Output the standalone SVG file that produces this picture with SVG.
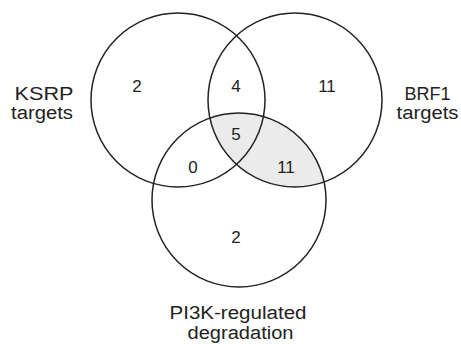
<svg xmlns="http://www.w3.org/2000/svg" width="461" height="344" viewBox="0 0 461 344">
<style>
.c{fill:none;stroke:#222;stroke-width:1.5}
.n{font-family:"Liberation Sans",Arial,sans-serif;font-size:17px;fill:#222;text-anchor:middle}
.l{font-family:"Liberation Sans",Arial,sans-serif;font-size:18px;fill:#222;text-anchor:middle}
</style>
<rect width="461" height="344" fill="#fff"/>
<g id="shade"><path d="M209.8 118 A87 87 0 0 1 324.2 182 A87 87 0 0 1 209.8 118 Z" fill="#ebebeb"/></g>
<g id="ksrp"><circle class="c" cx="178" cy="100" r="87"/><text class="l" x="44" y="100" textLength="59" lengthAdjust="spacingAndGlyphs">KSRP</text><text class="l" x="42" y="119" textLength="62" lengthAdjust="spacingAndGlyphs">targets</text></g>
<g id="brf1"><circle class="c" cx="295" cy="100" r="87"/><text class="l" x="427.5" y="100" textLength="46" lengthAdjust="spacingAndGlyphs">BRF1</text><text class="l" x="427.5" y="119" textLength="62" lengthAdjust="spacingAndGlyphs">targets</text></g>
<g id="pi3k"><circle class="c" cx="239" cy="200" r="87"/><text class="l" x="238" y="319" textLength="137" lengthAdjust="spacingAndGlyphs">PI3K-regulated</text><text class="l" x="240.5" y="339" textLength="106" lengthAdjust="spacingAndGlyphs">degradation</text></g>
<g id="counts">
<text class="n" x="137" y="92">2</text>
<text class="n" x="236" y="92">4</text>
<text class="n" x="327" y="92">11</text>
<text class="n" x="236" y="140">5</text>
<text class="n" x="193" y="173">0</text>
<text class="n" x="286" y="173">11</text>
<text class="n" x="236" y="243">2</text>
</g>
</svg>
